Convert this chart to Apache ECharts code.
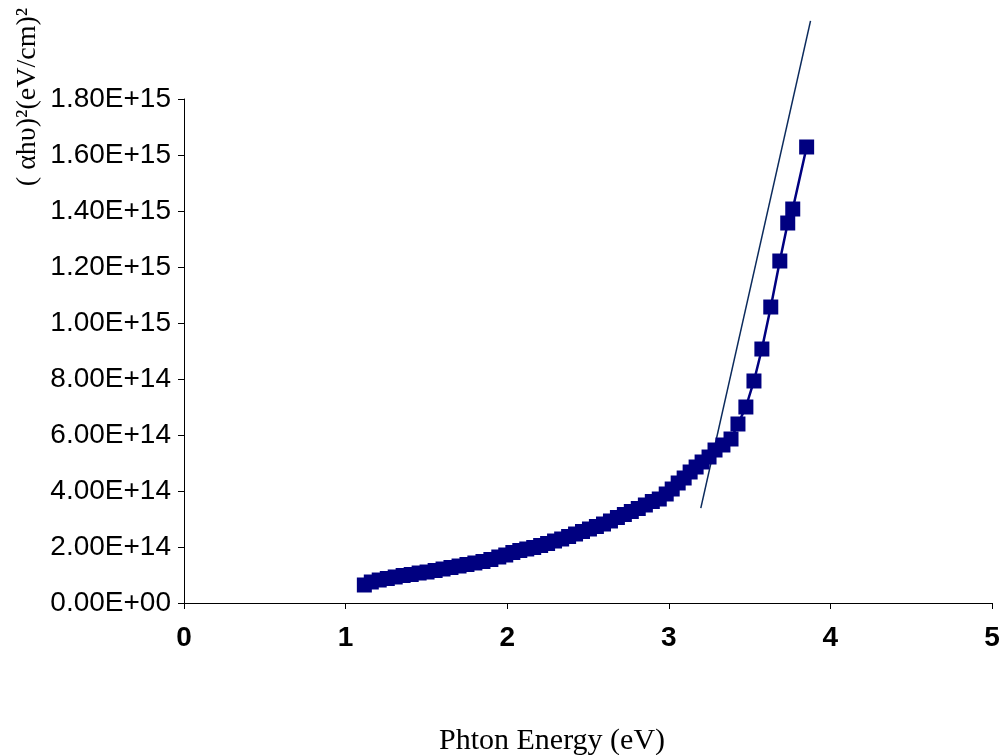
<!DOCTYPE html>
<html>
<head>
<meta charset="utf-8">
<script src="https://cdn.jsdelivr.net/npm/echarts@6/dist/echarts.min.js"></script>
<style>
html, body { margin: 0; padding: 0; background: #fff; }
#main { width: 1000px; height: 755px; }
</style>
</head>
<body>
<div id="main"></div>
<script>
// photon energy (eV) of each measured point
var energy = [
    1.116, 1.159, 1.208, 1.258, 1.307, 1.356, 1.406, 1.455, 1.504, 1.554,
    1.603, 1.652, 1.702, 1.751, 1.800, 1.850, 1.899, 1.948, 1.991, 2.035,
    2.078, 2.121, 2.164, 2.207, 2.250, 2.293, 2.337, 2.380, 2.423, 2.466,
    2.509, 2.552, 2.596, 2.639, 2.682, 2.725, 2.768, 2.811, 2.855, 2.898,
    2.941, 2.984, 3.021, 3.058, 3.095, 3.132, 3.169, 3.206, 3.249, 3.286,
    3.335, 3.385, 3.428, 3.477, 3.527, 3.576, 3.631, 3.687, 3.736, 3.767,
    3.853
];
// (ahv)^2 in units of 1e14
var ahv2 = [
    0.643, 0.750, 0.821, 0.875, 0.929, 0.982, 1.018, 1.071, 1.107, 1.161,
    1.214, 1.268, 1.321, 1.375, 1.429, 1.482, 1.554, 1.643, 1.714, 1.804,
    1.875, 1.929, 1.982, 2.054, 2.125, 2.214, 2.286, 2.375, 2.464, 2.554,
    2.643, 2.732, 2.821, 2.929, 3.054, 3.161, 3.268, 3.375, 3.500, 3.625,
    3.714, 3.893, 4.071, 4.286, 4.464, 4.679, 4.857, 5.036, 5.214, 5.464,
    5.643, 5.857, 6.393, 7.000, 7.929, 9.071, 10.571, 12.214, 13.571, 14.071,
    16.286
];
// straight fit line (end points), y in 1e14
var fitEnergy = [3.198, 3.877];
var fitAhv2 = [3.39, 20.79];

var xTicks = [0, 1, 2, 3, 4, 5];

var points = [];
for (var i = 0; i < energy.length; i++) {
    points.push([energy[i], ahv2[i] * 1e14]);
}
var fitLine = [];
for (var j = 0; j < fitEnergy.length; j++) {
    fitLine.push([fitEnergy[j], fitAhv2[j] * 1e14]);
}

function sci(v) {
    var s = v.toExponential(2).split('e');
    var exp = parseInt(s[1], 10);
    var sign = exp < 0 ? '-' : '+';
    exp = Math.abs(exp);
    return s[0] + 'E' + sign + (exp < 10 ? '0' + exp : exp);
}

var chart = echarts.init(document.getElementById('main'));
chart.setOption({
    animation: false,
    backgroundColor: '#ffffff',
    grid: {
        left: 184,
        right: 8,
        top: 99,
        bottom: 152,
        containLabel: false,
        outerBoundsMode: 'none'
    },
    xAxis: {
        type: 'value',
        min: xTicks[0],
        max: xTicks[xTicks.length - 1],
        interval: 1,
        axisLine: { lineStyle: { color: '#000', width: 1 } },
        axisTick: { show: true, length: 6, lineStyle: { color: '#000' } },
        axisLabel: {
            color: '#000',
            fontFamily: 'Liberation Sans',
            fontWeight: 'bold',
            fontSize: 28,
            margin: 21
        },
        splitLine: { show: false }
    },
    yAxis: {
        type: 'value',
        min: 0,
        max: 1.8e15,
        interval: 2e14,
        axisLine: { show: true, lineStyle: { color: '#000', width: 1 } },
        axisTick: { show: true, length: 6, lineStyle: { color: '#000' } },
        axisLabel: {
            color: '#000',
            fontFamily: 'Liberation Sans',
            fontSize: 28,
            margin: 13,
            formatter: function (v) { return sci(v); }
        },
        splitLine: { show: false }
    },
    graphic: [{
        type: 'text',
        x: 28,
        y: 97,
        rotation: Math.PI / 2,
        style: {
            text: '( αhυ)²(eV/cm)²',
            fontFamily: 'Liberation Serif',
            fontSize: 28,
            fill: '#000',
            align: 'center',
            verticalAlign: 'middle'
        }
    }, {
        type: 'text',
        x: 552,
        y: 741,
        style: {
            text: 'Phton Energy (eV)',
            fontFamily: 'Liberation Serif',
            fontSize: 30,
            fill: '#000',
            align: 'center',
            verticalAlign: 'middle'
        }
    }],
    series: [{
        type: 'line',
        data: points,
        symbol: 'rect',
        symbolSize: 15,
        showAllSymbol: true,
        itemStyle: { color: '#000080' },
        lineStyle: { color: '#000080', width: 2.5 }
    }, {
        type: 'line',
        data: fitLine,
        symbol: 'none',
        clip: false,
        lineStyle: { color: '#0b2a5c', width: 1.5 }
    }]
});
</script>
</body>
</html>
